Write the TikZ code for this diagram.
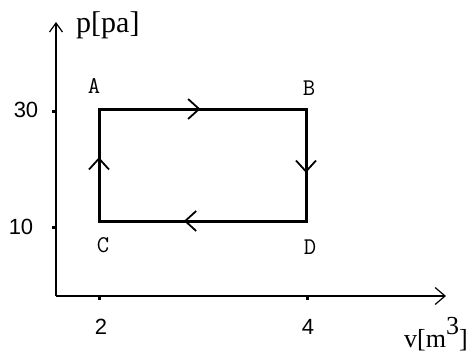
\documentclass[tikz,border=0pt]{standalone}
\usepackage{fontspec}
\newfontfamily\axisfont{Liberation Serif}
\newfontfamily\numfont{Liberation Sans}
\newfontfamily\letfont{Latin Modern Mono}
\usetikzlibrary{arrows.meta,decorations.markings}
\tikzset{
  axis/.style={line width=1.3pt},
  cyc/.style={line width=3pt, line cap=rect, line join=miter},
  tickline/.style={line width=3pt},
  numlbl/.style={font=\numfont\fontsize{22}{22}\selectfont, inner sep=0pt},
  letlbl/.style={font=\letfont\fontsize{24}{24}\selectfont, inner sep=0pt},
  axlbl/.style={font=\axisfont\fontsize{30}{30}\selectfont, inner sep=0pt, anchor=base west},
  midarrow/.style={postaction={decorate}, decoration={markings,
      mark=at position #1 with {\arrow{Straight Barb[length=11pt,width=20pt,line width=1.8pt]}}}}
}
\begin{document}
\begin{tikzpicture}[x=1pt,y=1pt]
\useasboundingbox[fill=white] (0,0) rectangle (472,-356);
% axes
\coordinate (O) at (56,-296);
\coordinate (ytop) at (56,-22);
\coordinate (xend) at (446,-296);
\draw[axis, -{Straight Barb[length=9pt,width=13pt,line width=1.2pt]}] (O) -- (ytop);
\draw[axis, -{Straight Barb[length=10pt,width=17pt,line width=1.2pt]}] (O) -- (xend);
% ticks
\coordinate (t30a) at (52,-111); \coordinate (t30b) at (56,-111);
\coordinate (t10a) at (52,-227); \coordinate (t10b) at (56,-227);
\coordinate (t2a) at (99,-296); \coordinate (t2b) at (99,-300);
\coordinate (t4a) at (307,-296); \coordinate (t4b) at (307,-300);
\draw[tickline] (t30a) -- (t30b);
\draw[tickline] (t10a) -- (t10b);
\draw[tickline] (t2a) -- (t2b);
\draw[tickline] (t4a) -- (t4b);
% cycle corners
\coordinate (cA) at (99,-109);
\coordinate (cB) at (306,-109);
\coordinate (cD) at (306,-221);
\coordinate (cC) at (99,-221);
\draw[cyc] (cA) -- (cB) -- (cD) -- (cC) -- cycle;
\path[cyc, midarrow=0.49] (cA) -- (cB);
\path[cyc, midarrow=0.57] (cB) -- (cD);
\path[cyc, midarrow=0.59] (cD) -- (cC);
\path[cyc, midarrow=0.57] (cC) -- (cA);
% labels
\node[axlbl] (plbl) at (76,-32) {p[pa]};
\node[axlbl, font=\axisfont\fontsize{26}{26}\selectfont] (vlbl) at (404,-347) {v[m\raisebox{13pt}{3}]};
\node[numlbl] (n30) at (26,-110) {30};
\node[numlbl] (n10) at (21,-227) {10};
\node[numlbl] (n2) at (101,-327) {2};
\node[numlbl] (n4) at (308,-327) {4};
\node[letlbl] (lA) at (94,-86) {A};
\node[letlbl] (lB) at (309,-88) {B};
\node[letlbl] (lC) at (103,-245) {C};
\node[letlbl] (lD) at (310,-247) {D};
\end{tikzpicture}
\end{document}
